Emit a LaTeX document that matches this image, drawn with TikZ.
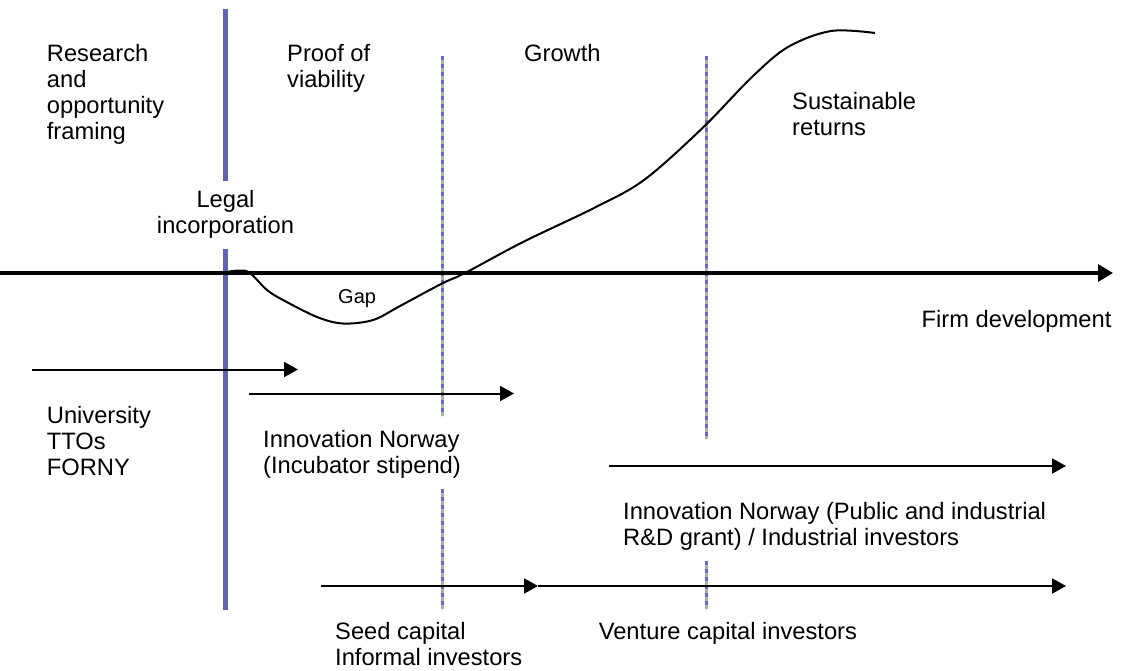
\documentclass[tikz,border=0pt]{standalone}
\usepackage{fontspec}
\setmainfont{Liberation Sans}
\usetikzlibrary{arrows.meta}
\definecolor{legalblue}{RGB}{96,100,176}
\definecolor{dotblue}{RGB}{100,108,200}
\definecolor{dotgray}{RGB}{175,175,175}
\begin{document}
\begin{tikzpicture}[x=1pt,y=-1pt,
  lbl/.style={inner sep=0pt, font=\fontsize{23.7}{26}\selectfont, align=left, anchor=base west},
  smalllbl/.style={inner sep=0pt, font=\fontsize{20}{24}\selectfont, anchor=base west},
  legalline/.style={draw=legalblue, line width=5pt},
  dotline/.style={draw=dotblue, line width=3pt, dash pattern=on 4pt off 4pt,
    preaction={draw=dotgray, line width=3pt, dash pattern=on 4pt off 4pt, dash phase=4pt}},
  axis/.style={line width=3.3pt, -{Triangle[length=15pt,width=17pt]}},
  fund/.style={line width=2pt, -{Triangle[length=14pt,width=15pt]}},
  curve/.style={line width=2pt}]
\useasboundingbox (0,0) rectangle (1123,671);
% vertical lines
\coordinate (l1t) at (225.5,9);   \coordinate (l1b) at (225.5,181);
\coordinate (l2t) at (225.5,249); \coordinate (l2b) at (225.5,610);
\draw[legalline] (l1t) -- (l1b);
\draw[legalline] (l2t) -- (l2b);
\coordinate (d1a) at (442,56);  \coordinate (d1b) at (442,416);
\coordinate (d1c) at (442,489); \coordinate (d1d) at (442,609);
\coordinate (d2a) at (706,56);  \coordinate (d2b) at (706,439);
\coordinate (d2c) at (706,561); \coordinate (d2d) at (706,609);
\draw[dotline] (d1a) -- (d1b);
\draw[dotline] (d1c) -- (d1d);
\draw[dotline] (d2a) -- (d2b);
\draw[dotline] (d2c) -- (d2d);
% axis
\coordinate (ax0) at (0,273); \coordinate (ax1) at (1113,273);
\draw[axis] (ax0) -- (ax1);
% curve
\draw[curve] plot[smooth, tension=0.55] coordinates {(226,272) (240,270.5) (250,273) (267,290) (283,300) (317,317) (343,323.5) (373,320) (400,306) (442,283.5) (465,273) (523,242) (594,208) (644,180) (702,128.5) (752,77) (788,47) (831,31) (875,33)};
% funding arrows
\coordinate (f1a) at (32,369.5);  \coordinate (f1b) at (298,369.5);
\coordinate (f2a) at (249,393.5); \coordinate (f2b) at (514,393.5);
\coordinate (f3a) at (609,466);   \coordinate (f3b) at (1066,466);
\coordinate (f4a) at (321,586);   \coordinate (f4b) at (538,586);
\coordinate (f5b) at (1066,586);
\draw[fund] (f1a) -- (f1b);
\draw[fund] (f2a) -- (f2b);
\draw[fund] (f3a) -- (f3b);
\draw[fund] (f4a) -- (f4b);
\draw[fund] (f4b) -- (f5b);
% labels (base anchor = baseline of last line)
\node[lbl] (research) at (46.7,140) {Research\\and\\opportunity\\framing};
\node[lbl] (proof) at (287,88) {Proof of\\viability};
\node[lbl] (growth) at (524,62) {Growth};
\node[lbl] (sustain) at (792,136) {Sustainable\\returns};
\node[lbl, align=center, anchor=base] (legal) at (225.5,233) {Legal\\incorporation};
\node[smalllbl] (gap) at (338,303) {Gap};
\node[lbl] (firm) at (921.5,327) {Firm development};
\node[lbl] (univ) at (46.7,475) {University\\TTOs\\FORNY};
\node[lbl] (innov1) at (263,473) {Innovation Norway\\(Incubator stipend)};
\node[lbl] (innov2) at (623,545) {Innovation Norway (Public and industrial\\R\&D grant) / Industrial investors};
\node[lbl] (seed) at (335,665) {Seed capital\\Informal investors};
\node[lbl] (venture) at (598.6,639) {Venture capital investors};
\end{tikzpicture}
\end{document}
